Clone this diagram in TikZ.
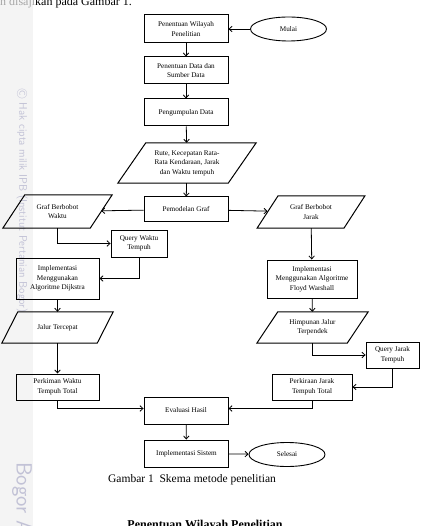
\documentclass[tikz,border=0pt]{standalone}
\usepackage{fontspec}
\setmainfont{Liberation Serif}
\usetikzlibrary{arrows.meta,shapes.geometric,calc}
\newcommand\fs{\fontsize{7.2}{9.5}\selectfont}
\newcommand\paral[2]{\draw[boxline] ([xshift=-#2]#1.south west) -- ([xshift=#2]#1.north west) -- ([xshift=#2]#1.north east) -- ([xshift=-#2]#1.south east) -- cycle;}
\begin{document}
\begin{tikzpicture}[x=1pt,y=-1pt,
  boxline/.style={line width=1pt},
  box/.style={draw, line width=1pt, align=center, font=\fs, inner sep=1pt, minimum width=84pt},
  thinbox/.style={box, line width=0.9pt},
  ptxt/.style={align=center, font=\fs, inner sep=0pt},
  oval/.style={draw, ellipse, line width=0.9pt, font=\fs, minimum width=76pt, minimum height=24pt},
  arr/.style={-{Straight Barb[length=3pt,width=5.5pt]}, line width=0.8pt}]
\useasboundingbox (0,0) rectangle (420,526);
% page background elements
\fill[gray!9] (0,0) rectangle (33,526);
\node[anchor=base west, font=\fontsize{12}{14}\selectfont, inner sep=0pt] (toptxt) at (0,6) {\textcolor{gray!70}{n disaji}kan pada Gambar 1.};
\node[rotate=-90, anchor=west, font=\fontsize{11}{13}\sffamily\selectfont, text=blue!20!gray!40, inner sep=0pt] (wm) at (22,88) {\textcircled{\footnotesize C} Hak cipta milik IPB (Institut Pertanian Bogor)};
\node[rotate=-90, anchor=west, font=\fontsize{22}{24}\sffamily\selectfont, text=blue!20!gray!40, inner sep=0pt] (wm2) at (22,462) {Bogor A};
% main column
\node[box, minimum height=28pt] (pw) at (186,29) {Penentuan Wilayah\\Penelitian};
\node[oval] (mulai) at (288.5,29) {Mulai};
\node[box, minimum height=27pt] (pd) at (186,70.5) {Penentuan Data dan\\Sumber Data};
\node[box, minimum height=27pt] (pk) at (186,112.5) {Pengumpulan Data};
\node[ptxt, minimum width=110pt, minimum height=40pt] (rute) at (187,163) {Rute, Kecepatan Rata-\\Rata Kendaraan, Jarak\\dan Waktu tempuh};
\paral{rute}{14}
\node[box, minimum height=25pt] (pg) at (186,209.5) {Pemodelan Graf};
% left column
\node[ptxt, minimum width=87pt, minimum height=33pt] (gw) at (57.5,211.5) {Graf Berbobot\\Waktu};
\paral{gw}{11}
\node[thinbox, minimum width=56pt, minimum height=27pt] (qw) at (139,243.5) {Query Waktu\\Tempuh};
\node[box, minimum width=83pt, minimum height=41pt] (dj) at (57.5,278.5) {Implementasi\\Menggunakan\\Algoritme Dijkstra};
\node[ptxt, minimum width=95pt, minimum height=31pt] (jt) at (57.5,327.5) {Jalur Tercepat};
\paral{jt}{8}
\node[box, minimum width=83pt, minimum height=26pt] (pwt) at (57.5,387) {Perkiman Waktu\\Tempuh Total};
% right column
\node[ptxt, minimum width=86.5pt, minimum height=32pt] (gj) at (311,212) {Graf Berbobot\\Jarak};
\paral{gj}{10.5}
\node[box, minimum width=90pt, minimum height=38pt] (fw) at (312,279) {Implementasi\\Menggunakan Algoritme\\Floyd Warshall};
\node[ptxt, minimum width=90pt, minimum height=31pt] (hj) at (312.5,327.5) {Himpunan Jalur\\Terpendek};
\paral{hj}{10.5}
\node[thinbox, minimum width=53pt, minimum height=26pt] (qj) at (392.5,355) {Query Jarak\\Tempuh};
\node[box, minimum width=80pt, minimum height=26pt] (pjt) at (312,387) {Perkiraan Jarak\\Tempuh Total};
% bottom
\node[thinbox, minimum height=27pt] (ev) at (186,410.5) {Evaluasi Hasil};
\node[box, minimum height=27pt] (is) at (186.5,453.5) {Implementasi Sistem};
\node[oval] (sel) at (287,454.5) {Selesai};
\node[font=\fontsize{11.5}{13}\selectfont, inner sep=0pt] (cap) at (192,480) {Gambar 1\ \ Skema metode penelitian};
\node[font=\bfseries\fontsize{12}{14}\selectfont, inner sep=0pt, anchor=base] (nxt) at (205,528) {Penentuan Wilayah Penelitian};
% connectors
\draw[arr] (mulai) -- (pw);
\draw[arr] (pw) -- (pd);
\draw[arr] (pd) -- (pk);
\draw[arr] (pk) -- (rute);
\draw[arr] (rute) -- (pg);
\draw[arr] (pg) -- (gw);
\draw[arr] (pg) -- (gj);
\draw[arr] (gw.south) |- (qw.west);
\draw[arr] (qw.south) |- (dj.east);
\draw[arr] (dj) -- (jt);
\draw[arr] (jt) -- (pwt);
\draw[arr] (pwt.south) |- ([yshift=2pt]ev.west);
\draw[arr] (gj) -- (fw);
\draw[arr] (fw) -- (hj);
\draw[arr] (hj.south) |- (qj.west);
\draw[arr] (qj.south) |- (pjt.east);
\draw[arr] (pjt.south) |- ([yshift=2pt]ev.east);
\draw[arr] (ev) -- (is);
\draw[arr] (is) -- (sel);
\end{tikzpicture}
\end{document}
